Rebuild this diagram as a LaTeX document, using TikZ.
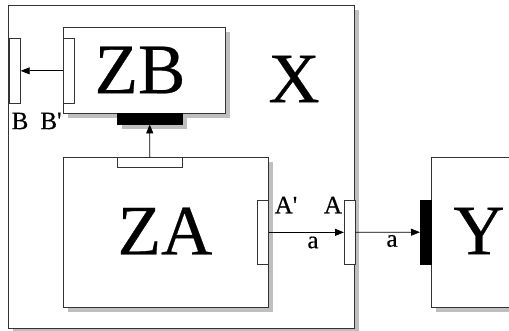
\documentclass[tikz,border=0pt]{standalone}
\usepackage{fontspec}
\setmainfont{Liberation Serif}
\newfontfamily\heavyfont[FakeBold=0.4]{Liberation Serif}
\usetikzlibrary{arrows.meta,shadows}
\begin{document}
\begin{tikzpicture}[x=1pt,y=-1pt,
  box/.style={draw=black!80,line width=0.7pt,fill=white,anchor=north west,inner sep=0pt,
    drop shadow={shadow xshift=5pt,shadow yshift=-5pt,fill=black!25,opacity=1}},
  port/.style={draw=black!80,line width=0.7pt,fill=white,anchor=north west,inner sep=0pt},
  bport/.style={draw=black,fill=black,anchor=north west,inner sep=0pt},
  big/.style={inner sep=0pt,font=\heavyfont\fontsize{71}{71}\selectfont},
  small/.style={inner sep=0pt,font=\heavyfont\fontsize{25}{25}\selectfont},
  conn/.style={line width=0.8pt,-{Triangle[length=9pt,width=7pt]}}]
\useasboundingbox (0,0) rectangle (509,331);
\begin{scope}
\clip (0,0) rectangle (509,331);
% outer X box
\node[box,minimum width=346pt,minimum height=323pt] (X) at (8,5) {};
% ZB
\node[box,minimum width=162pt,minimum height=86pt] (ZB) at (63,27) {};
\node[bport,minimum width=65pt,minimum height=11pt,
  drop shadow={shadow xshift=5pt,shadow yshift=-5pt,fill=black!25,opacity=1}] (bar) at (117,113) {};
\node[port,minimum width=11pt,minimum height=65pt] (zbp) at (63,38) {};
\node[port,minimum width=11pt,minimum height=65pt] (bp) at (9,38) {};
% ZA
\node[box,minimum width=205pt,minimum height=150pt] (ZA) at (63,157) {};
\node[port,minimum width=65pt,minimum height=10pt] (zat) at (117,157) {};
\node[port,minimum width=11pt,minimum height=64pt] (zar) at (257,200) {};
\node[port,minimum width=11pt,minimum height=64pt] (ap) at (344,200) {};
% Y
\node[box,minimum width=100pt,minimum height=150pt] (Y) at (431,157) {};
\node[bport,minimum width=11pt,minimum height=64pt] (yp) at (420,200) {};
\end{scope}
% texts
\node[big] (tZB) at (140,70) {ZB};
\node[big] (tX) at (294,79) {X};
\node[big] (tZA) at (165,231) {ZA};
\node[big] (tY) at (479,231) {Y};
\node[small] (lB) at (20,121) {B};
\node[small] (lBp) at (51,121) {B\textquotesingle};
\node[small] (lAp) at (286,205) {A\textquotesingle};
\node[small] (lA) at (333,205) {A};
\node[small] (la1) at (313,242.5) {a};
\node[small] (la2) at (392,241) {a};
% connectors
\draw[conn] (zbp.west) -- (bp.east);
\draw[conn] (zat.north) -- (bar.south);
\draw[conn] (zar.east) -- (ap.west);
\draw[conn] (ap.east) -- (yp.west);
\end{tikzpicture}
\end{document}
